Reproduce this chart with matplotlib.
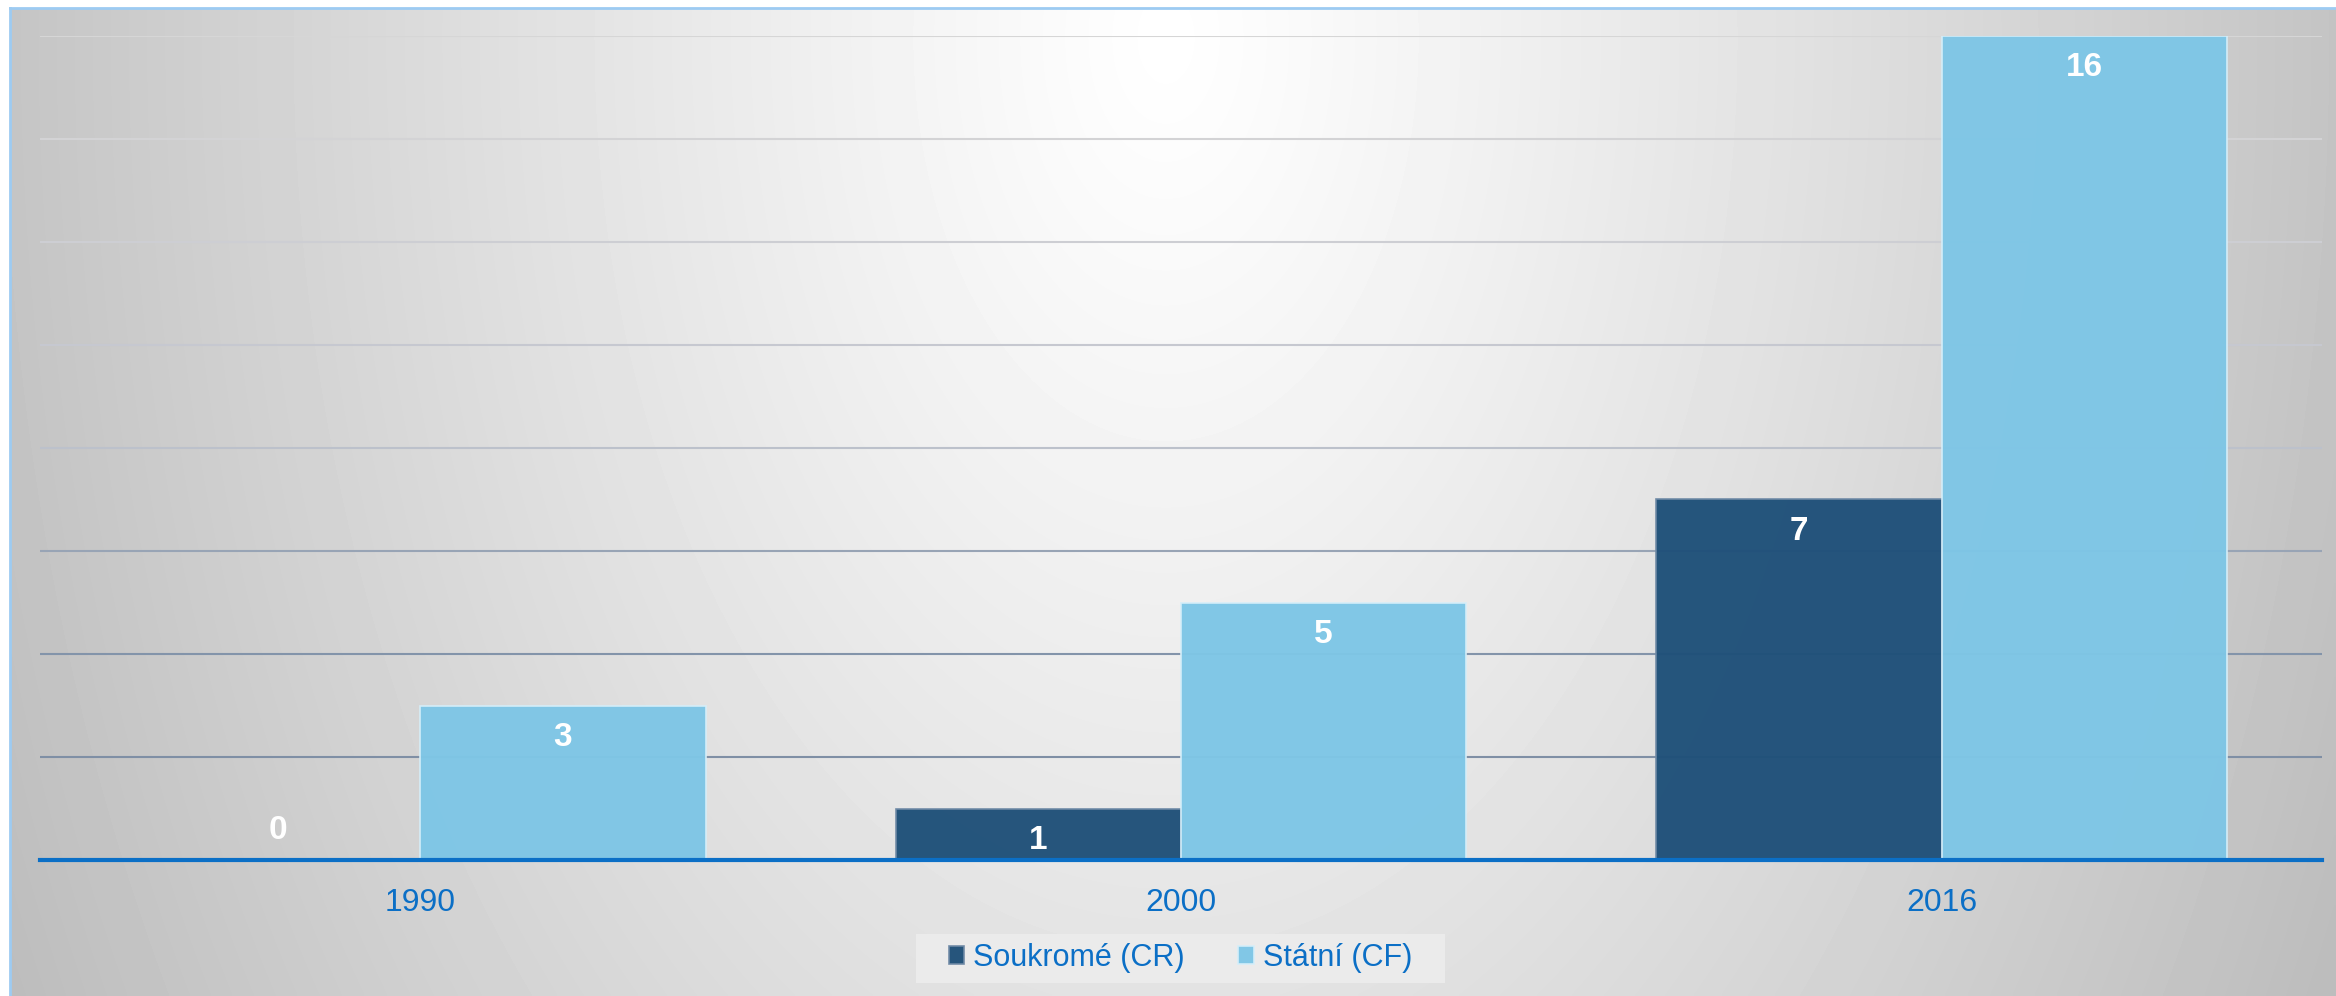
import numpy as np
import matplotlib
matplotlib.use('Agg')
import matplotlib.pyplot as plt
from matplotlib.patches import Rectangle

plt.rcParams['font.family'] = ['Liberation Sans', 'DejaVu Sans']

# data
years = ['1990', '2000', '2016']
soukrome = [0, 1, 7]    # Soukromé (CR)
statni = [3, 5, 16]     # Státní (CF)
series_names = ['Soukromé (CR)', 'Státní (CF)']

W, H = 2336, 996
fig = plt.figure(figsize=(W / 100, H / 100), dpi=100, facecolor='white')

# radial gradient background inside light blue frame
bx0 = 10 / W
by1 = (H - 8) / H
bg = fig.add_axes([bx0, 0, 1 - bx0, by1], zorder=-10)
gx = np.linspace(0, 1, 600)
gy = np.linspace(0, 1, 300)
XX, YY = np.meshgrid(gx, gy)
cx, cy = 0.497, 0.03
r = np.sqrt(((XX - cx) / 0.5) ** 2 + ((YY - cy) / 1.88) ** 2)
val = np.clip(1.0 - 0.23 * r ** 1.1, 0.74, 1.0)
bg.imshow(val, cmap='gray', vmin=0, vmax=1, aspect='auto', origin='upper',
          extent=[0, 1, 1, 0], interpolation='bilinear')
bg.set_xlim(0, 1)
bg.set_ylim(1, 0)
bg.axis('off')
fig.add_artist(plt.Line2D([bx0, 1], [by1, by1], transform=fig.transFigure,
                          color='#9DCBF2', lw=2))
fig.add_artist(plt.Line2D([bx0, bx0], [0, by1], transform=fig.transFigure,
                          color='#9DCBF2', lw=2))

# main axes
ax = fig.add_axes([40 / W, (H - 860) / H, (2322 - 40) / W, (860 - 36) / H])
ax.set_facecolor('none')

x = np.arange(len(years))
w = 0.375
b1 = ax.bar(x - w / 2, soukrome, w, color='#1F5079', alpha=0.97,
            edgecolor='#6F8AA6', linewidth=1.2, label=series_names[0], zorder=2)
b2 = ax.bar(x + w / 2, statni, w, color='#7EC6E6', alpha=0.97,
            edgecolor='#D5EEF9', linewidth=1.2, label=series_names[1], zorder=2)

for bars, vals in [(b1, soukrome), (b2, statni)]:
    for rect, v in zip(bars, vals):
        dy = -23 if v > 0 else 21
        ax.annotate(str(v), xy=(rect.get_x() + rect.get_width() / 2, v),
                    xytext=(0, dy), textcoords='offset points',
                    ha='center', va='center', color='white',
                    fontsize=24, fontweight='bold', zorder=5)

ax.set_xlim(-0.5, 2.5)
ax.set_ylim(0, 16)
ax.set_yticks(np.arange(2, 17, 2))
ax.set_yticklabels([])
ax.tick_params(axis='y', length=0)
ax.set_axisbelow(True)
ax.grid(axis='y', linewidth=1.5)
grid_cols = ['#7F8FA5', '#8394AA', '#98A4B5', '#BCC1CB', '#C6C8D0',
             '#CDCED3', '#D3D3D5', '#D6D6D6']
for gl, c in zip(ax.get_ygridlines(), grid_cols):
    gl.set_color(c)

ax.set_xticks(x)
ax.set_xticklabels(years, color='#0B6FC6', fontsize=23)
ax.tick_params(axis='x', length=0, pad=20)

for s in ['left', 'right', 'top']:
    ax.spines[s].set_visible(False)
ax.spines['bottom'].set_color('#0B6FC6')
ax.spines['bottom'].set_linewidth(3)
ax.spines['bottom'].set_zorder(4)

# legend box (drawn separately for wider side padding), below the main axes
fig.add_artist(Rectangle((916 / W, (H - 983) / H), (1445 - 916) / W, 49 / H,
                         transform=fig.transFigure, facecolor='#EDEDED',
                         edgecolor='none', alpha=0.85, zorder=-5))
axc = (916 + 1445) / 2 / W
leg = ax.legend(loc='center', bbox_to_anchor=(axc, (H - 958) / H),
                bbox_transform=fig.transFigure, ncol=2, frameon=False,
                fontsize=22, handlelength=0.5, handleheight=0.5,
                handletextpad=0.3, columnspacing=1.75, borderpad=0.3)
for t in leg.get_texts():
    t.set_color('#0B6FC6')

fig.savefig('out.png', dpi=100, facecolor=fig.get_facecolor())
